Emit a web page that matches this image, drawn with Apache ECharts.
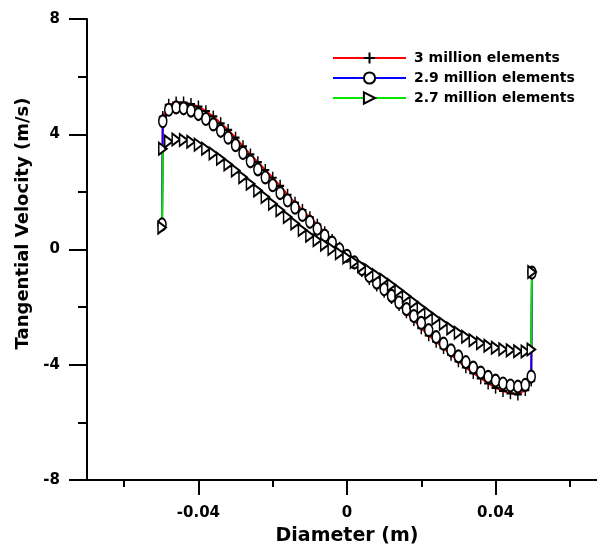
<!DOCTYPE html>
<html>
<head>
<meta charset="utf-8">
<script src="https://cdn.jsdelivr.net/npm/echarts@6/dist/echarts.min.js"></script>
<style>html,body{margin:0;padding:0;background:#fff;}#chart{width:597px;height:547px;}</style>
</head>
<body>
<div id="chart"></div>
<script>
// Diameter positions (m)
const diameter = [-0.0498, -0.0496,
  -0.048, -0.046, -0.044, -0.042, -0.040, -0.038, -0.036, -0.034, -0.032, -0.030,
  -0.028, -0.026, -0.024, -0.022, -0.020, -0.018, -0.016, -0.014, -0.012, -0.010,
  -0.008, -0.006, -0.004, -0.002, 0.000, 0.002, 0.004, 0.006, 0.008, 0.010,
  0.012, 0.014, 0.016, 0.018, 0.020, 0.022, 0.024, 0.026, 0.028, 0.030,
  0.032, 0.034, 0.036, 0.038, 0.040, 0.042, 0.044, 0.046, 0.048,
  0.0496, 0.0498];

// Tangential velocity (m/s)
const vel3M = [0.88, 4.60,
  5.02, 5.10, 5.10, 5.05, 4.96, 4.80, 4.62, 4.38, 4.15, 3.88,
  3.58, 3.30, 3.03, 2.76, 2.49, 2.21, 1.90, 1.62, 1.37, 1.12,
  0.86, 0.60, 0.33, 0.06, -0.20, -0.48, -0.75, -1.02, -1.25, -1.47,
  -1.68, -1.93, -2.18, -2.45, -2.73, -2.98, -3.20, -3.42, -3.65, -3.88,
  -4.09, -4.29, -4.47, -4.65, -4.80, -4.91, -4.99, -5.03, -4.88,
  -4.55, -0.82];

const vel29M = [0.87, 4.45,
  4.85, 4.93, 4.90, 4.82, 4.70, 4.53, 4.34, 4.12, 3.88, 3.62,
  3.35, 3.06, 2.78, 2.50, 2.23, 1.96, 1.70, 1.45, 1.20, 0.96,
  0.72, 0.48, 0.24, 0.00, -0.22, -0.45, -0.68, -0.92, -1.15, -1.38,
  -1.61, -1.84, -2.07, -2.31, -2.55, -2.80, -3.04, -3.27, -3.50, -3.71,
  -3.91, -4.10, -4.27, -4.42, -4.55, -4.65, -4.72, -4.76, -4.70,
  -4.41, -0.80];

const vel27M = [0.76, 3.50,
  3.75, 3.82, 3.80, 3.74, 3.64, 3.50, 3.33, 3.15, 2.95, 2.74,
  2.51, 2.28, 2.05, 1.82, 1.59, 1.36, 1.13, 0.90, 0.68, 0.48,
  0.32, 0.17, 0.02, -0.13, -0.28, -0.43, -0.58, -0.73, -0.89, -1.05,
  -1.23, -1.42, -1.62, -1.82, -2.02, -2.21, -2.40, -2.58, -2.74, -2.89,
  -3.03, -3.15, -3.25, -3.34, -3.41, -3.46, -3.50, -3.53, -3.54,
  -3.47, -0.78];

const seriesNames = ['3 million elements', '2.9 million elements', '2.7 million elements'];

// Axis ticks
const xMajorTicks = [-0.04, 0, 0.04];
const xMinorTicks = [-0.06, -0.02, 0.02, 0.06];
const yMajorTicks = [-8, -4, 0, 4, 8];
const yMinorTicks = [-6, -2, 2, 6];
const xRange = [-0.07, 0.07];
const yRange = [-8, 8];

const FONT = 'DejaVu Sans';
const pair = (ys) => diameter.map((x, i) => [x, ys[i]]);

const chart = echarts.init(document.getElementById('chart'), null, {renderer: 'canvas'});
const axisLine = {show: true, onZero: false, lineStyle: {color: '#000', width: 2}};

function mkSeries(name, ys, color, symbol) {
  return {
    name: name, type: 'line', data: pair(ys),
    xAxisIndex: 0, yAxisIndex: 0,
    symbol: symbol, symbolSize: [8, 12], showAllSymbol: true,
    lineStyle: {color: color, width: 2},
    itemStyle: {color: '#fff', borderColor: '#000', borderWidth: 1.8},
    emphasis: {disabled: true}
  };
}

chart.setOption({
  animation: false,
  backgroundColor: '#fff',
  grid: {left: 87, width: 520, top: 19, height: 461, containLabel: false, outerBoundsMode: 'none'},
  legend: {
    orient: 'vertical', left: 327, top: 46,
    itemWidth: 73, itemHeight: 14, itemGap: 6,
    textStyle: {fontFamily: FONT, fontWeight: 'bold', fontSize: 14, color: '#000', padding: [0, 0, 0, 3]},
    data: seriesNames
  },
  xAxis: [{
    type: 'value', position: 'bottom', min: xRange[0], max: xRange[1],
    axisLine: axisLine,
    axisTick: {show: true, customValues: xMajorTicks, length: 15, lineStyle: {color: '#000', width: 2}},
    axisLabel: {customValues: xMajorTicks, margin: 26, color: '#000', fontFamily: FONT, fontWeight: 'bold', fontSize: 15,
      formatter: v => String(v)},
    splitLine: {show: false},
    name: 'Diameter (m)', nameLocation: 'middle', nameGap: 47,
    nameTextStyle: {fontFamily: FONT, fontWeight: 'bold', fontSize: 19, color: '#000'}
  }, {
    type: 'value', position: 'bottom', min: xRange[0], max: xRange[1],
    axisLine: {show: false, onZero: false},
    axisTick: {show: true, customValues: xMinorTicks, length: 7, lineStyle: {color: '#000', width: 2}},
    axisLabel: {show: false},
    splitLine: {show: false}
  }],
  yAxis: [{
    type: 'value', position: 'left', min: yRange[0], max: yRange[1],
    axisLine: axisLine,
    axisTick: {show: true, customValues: yMajorTicks, length: 18, lineStyle: {color: '#000', width: 2}},
    axisLabel: {customValues: yMajorTicks, margin: 27, color: '#000', fontFamily: FONT, fontWeight: 'bold', fontSize: 15,
      formatter: v => String(v)},
    splitLine: {show: false},
    name: 'Tangential Velocity (m/s)', nameLocation: 'middle', nameGap: 45,
    nameTextStyle: {fontFamily: FONT, fontWeight: 'bold', fontSize: 18, color: '#000', padding: [0, 0, 0, 52]}
  }, {
    type: 'value', position: 'left', min: yRange[0], max: yRange[1],
    axisLine: {show: false, onZero: false},
    axisTick: {show: true, customValues: yMinorTicks, length: 9, lineStyle: {color: '#000', width: 2}},
    axisLabel: {show: false},
    splitLine: {show: false}
  }],
  series: [
    mkSeries(seriesNames[0], vel3M, '#ff0000', 'path://M5,0L5,10M0,5L10,5'),
    mkSeries(seriesNames[1], vel29M, '#0000ff', 'circle'),
    mkSeries(seriesNames[2], vel27M, '#00e600', 'path://M0,0L10,5L0,10Z')
  ]
});
</script>
</body>
</html>
